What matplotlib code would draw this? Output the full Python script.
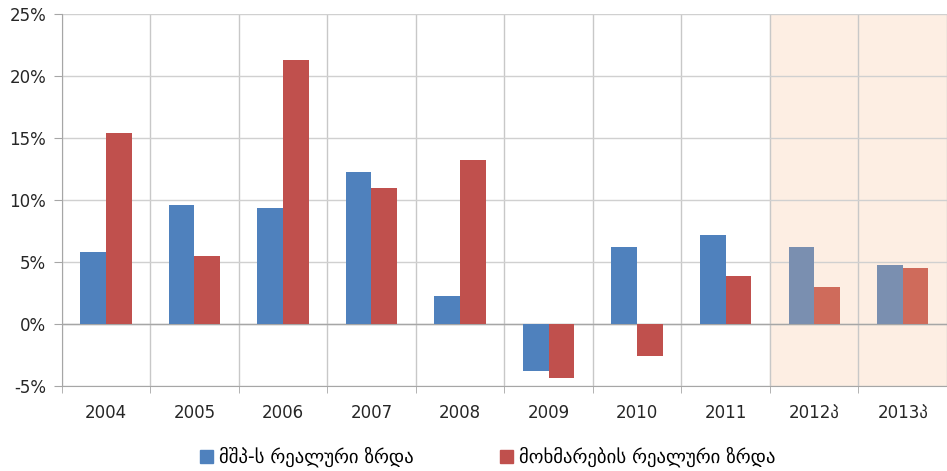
import matplotlib.pyplot as plt
import matplotlib.ticker as ticker
import numpy as np

plt.rcParams["font.family"] = ["DejaVu Sans"]

# Annual growth rates, %
years = ["2004", "2005", "2006", "2007", "2008", "2009", "2010", "2011", "2012პ", "2013პ"]
gdp_growth = [5.8, 9.6, 9.4, 12.3, 2.3, -3.8, 6.2, 7.2, 6.2, 4.8]
consumption_growth = [15.4, 5.5, 21.3, 11.0, 13.2, -4.3, -2.6, 3.9, 3.0, 4.5]
n_forecast = 2  # last two years are forecasts

blue, red = "#4F81BD", "#C0504D"
blue_fc, red_fc = "#7A8FB0", "#CF6B5B"


def main():
    fig = plt.figure(figsize=(9.47, 4.71), dpi=100)
    ax = fig.add_axes([0.065, 0.18, 0.935, 0.79])

    x = np.arange(len(years))
    w = 0.29
    n_actual = len(years) - n_forecast
    blues = [blue] * n_actual + [blue_fc] * n_forecast
    reds = [red] * n_actual + [red_fc] * n_forecast

    # shaded forecast period
    ax.axvspan(n_actual - 0.5, len(years) - 0.5, color="#FDEEE3", zorder=0)

    ax.bar(x - w / 2, gdp_growth, w, color=blues, zorder=3)
    ax.bar(x + w / 2, consumption_growth, w, color=reds, zorder=3)

    ax.set_xlim(-0.5, len(years) - 0.5)
    ax.set_ylim(-5, 25)
    ax.yaxis.set_major_locator(ticker.MultipleLocator(5))
    ax.yaxis.set_major_formatter(ticker.FuncFormatter(lambda v, p: f"{v:.0f}%"))

    ax.set_xticks(x)
    ax.set_xticklabels(years)
    ax.set_xticks(np.arange(-0.5, len(years)), minor=True)
    ax.tick_params(axis="x", which="major", length=0, pad=13)
    ax.tick_params(axis="x", which="minor", length=5, color="#A6A6A6")
    ax.tick_params(axis="y", length=6, color="#A6A6A6", pad=5)
    ax.tick_params(labelsize=12, labelcolor="#262626")

    ax.grid(axis="y", color="#D0D0D0", linewidth=1, zorder=1)
    ax.grid(axis="x", which="minor", color="#C8C8C8", linewidth=1, zorder=1)
    ax.axhline(0, color="#A6A6A6", linewidth=1, zorder=2)

    for side in ["top", "right"]:
        ax.spines[side].set_visible(False)
    ax.spines["left"].set_color("#A6A6A6")
    ax.spines["bottom"].set_color("#A6A6A6")

    handles = [plt.Rectangle((0, 0), 1, 1, color=blue), plt.Rectangle((0, 0), 1, 1, color=red)]
    fig.legend(
        handles,
        ["მშპ-ს რეალური ზრდა", "მოხმარების რეალური ზრდა"],
        loc="lower center",
        bbox_to_anchor=(0.515, -0.028),
        ncol=2,
        frameon=False,
        fontsize=13.5,
        handlelength=0.7,
        handleheight=0.7,
        handletextpad=0.3,
        columnspacing=4.6,
    )

    fig.savefig("out.png", dpi=100)


if __name__ == "__main__":
    main()
